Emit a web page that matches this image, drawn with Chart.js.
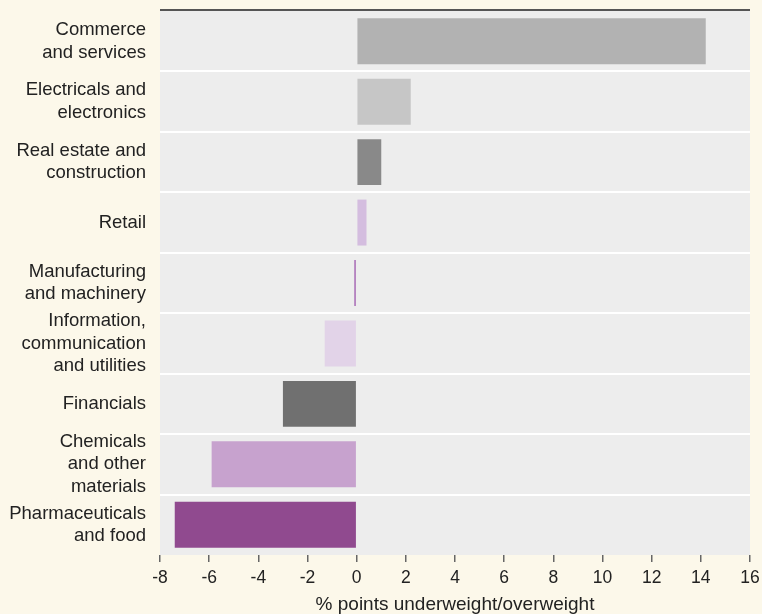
<!DOCTYPE html>
<html>
<head>
<meta charset="utf-8">
<script src="https://cdn.jsdelivr.net/npm/chart.js@4/dist/chart.umd.min.js"></script>
<style>
  body { margin: 0; background: #fcf8ea; }
  canvas { display: block; }
</style>
</head>
<body>
<canvas id="myChart" width="762" height="614"></canvas>
<script>
// Sector labels (top to bottom), multi-line like the original
const sectors = [
  ['Commerce', 'and services'],
  ['Electricals and', 'electronics'],
  ['Real estate and', 'construction'],
  'Retail',
  ['Manufacturing', 'and machinery'],
  ['Information,', 'communication', 'and utilities'],
  'Financials',
  ['Chemicals', 'and other', 'materials'],
  ['Pharmaceuticals', 'and food']
];

// % points underweight/overweight
const weights = [14.2, 2.2, 1.0, 0.4, -0.1, -1.3, -3.0, -5.9, -7.4];

const barColors = ['#b2b2b2', '#c6c6c6', '#898989', '#d4bddf', '#b07abc',
                   '#e2d3e8', '#707070', '#c7a2ce', '#904a8f'];

const xMin = -8;
const xMax = 16;
const xStep = 2;

// plot area background + dark line on top
const panelPlugin = {
  id: 'panel',
  beforeDraw(chart) {
    const { ctx, chartArea } = chart;
    ctx.save();
    ctx.fillStyle = '#fcf8ea';
    ctx.fillRect(0, 0, chart.width, chart.height);
    ctx.fillStyle = '#ededed';
    ctx.fillRect(chartArea.left, chartArea.top, chartArea.right - chartArea.left, chartArea.bottom - chartArea.top);
    ctx.restore();
  },
  afterDraw(chart) {
    const { ctx, chartArea } = chart;
    ctx.save();
    ctx.strokeStyle = '#555555';
    ctx.lineWidth = 2;
    ctx.beginPath();
    ctx.moveTo(chartArea.left, chartArea.top - 1);
    ctx.lineTo(chartArea.right, chartArea.top - 1);
    ctx.stroke();
    ctx.restore();
  }
};

const fontFamily = '"Liberation Sans", Arial, Helvetica, sans-serif';

const ctx = document.getElementById('myChart').getContext('2d');
const chart = new Chart(ctx, {
  type: 'bar',
  data: {
    labels: sectors,
    datasets: [{
      data: weights,
      backgroundColor: barColors,
      borderWidth: 0,
      barPercentage: 0.76,
      categoryPercentage: 1
    }]
  },
  options: {
    indexAxis: 'y',
    responsive: false,
    animation: false,
    layout: {
      padding: { left: 0, right: 12, top: 11, bottom: 0 }
    },
    scales: {
      x: {
        min: xMin,
        max: xMax,
        ticks: {
          stepSize: xStep,
          color: '#222',
          padding: 6,
          font: { family: fontFamily, size: 17.5 }
        },
        grid: {
          drawOnChartArea: false,
          drawTicks: true,
          tickLength: 7,
          color: '#666',
          lineWidth: 1.5
        },
        border: { display: false },
        title: {
          display: true,
          text: '% points underweight/overweight',
          color: '#222',
          padding: { top: 0, bottom: 0 },
          font: { family: fontFamily, size: 19, lineHeight: 1.0 }
        },
        afterFit(scale) {
          scale.height = 59;
          scale.paddingLeft = 0;
          scale.paddingRight = 0;
        }
      },
      y: {
        ticks: {
          autoSkip: false,
          color: '#222',
          padding: 14,
          font: { family: fontFamily, size: 18.5, lineHeight: 1.22 }
        },
        grid: {
          drawTicks: false,
          tickLength: 0,
          color: (c) => (c.type === 'tick' && c.index > 0) ? '#ffffff' : 'transparent',
          lineWidth: 2
        },
        border: { display: false },
        afterFit(scale) {
          scale.width = 160;
          scale.paddingTop = 0;
          scale.paddingBottom = 0;
        }
      }
    },
    plugins: {
      legend: { display: false },
      tooltip: { enabled: false }
    }
  },
  plugins: [panelPlugin]
});
</script>
</body>
</html>
